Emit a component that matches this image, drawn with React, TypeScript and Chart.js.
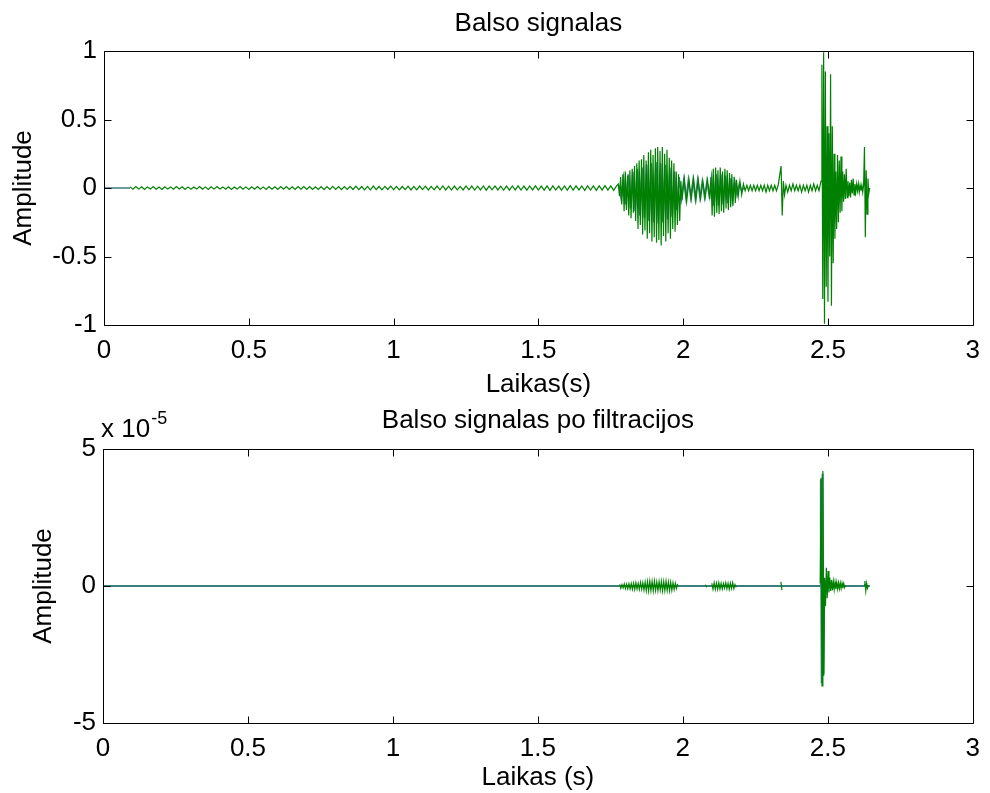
import React, { useEffect, useRef } from 'react';
import { Chart, registerables } from 'chart.js';

Chart.register(...registerables);

const FONT = '"Liberation Sans", Arial, Helvetica, sans-serif';
const FONT_SIZE = 26;
const GREEN = '#008000';
const TEAL = '#3d7f80';

// ---- axis ticks ----
const X_TICKS = [0, 0.5, 1, 1.5, 2, 2.5, 3];
const TOP_Y_TICKS = [-1, -0.5, 0, 0.5, 1];
const BOTTOM_Y_TICKS = [-5, 0, 5]; // in units of 10^-5
const BOTTOM_EXPONENT = '-5';

// ---- signal segments (t0 = start time in s, dt = sample spacing, v = peak values) ----
type Seg = { t0: number; dt: number; v: number[] };

// Top plot: original voice signal (green trace)
const VOICE_GREEN: Seg[] = [
  {
    t0: 0.09, dt: 0.01, v: [
      0.008, -0.009, 0.010, -0.008, 0.009, -0.010, 0.008, -0.008, 0.010, -0.009,
      0.007, -0.010, 0.009, -0.008, 0.008, -0.009, 0.010, -0.007, 0.009, -0.010,
      0.008, -0.009, 0.007, -0.008, 0.010, -0.009, 0.008, -0.010, 0.009, -0.008,
      0.010, -0.007, 0.008, -0.009, 0.009, -0.010, 0.007, -0.008, 0.010, -0.009,
      0.008, -0.010, 0.009, -0.008, 0.011, -0.009, 0.008, -0.010, 0.010, -0.009,
      0.009, -0.011, 0.010, -0.008, 0.011, -0.010, 0.009, -0.011, 0.010, -0.009,
      0.011, -0.010, 0.010, -0.011, 0.009, -0.010, 0.011, -0.012, 0.010, -0.011,
      0.012, -0.010, 0.011, -0.012, 0.010, -0.011, 0.012, -0.011, 0.013, -0.012,
      0.011, -0.013, 0.012, -0.013, 0.014, -0.012, 0.011, -0.013, 0.012, -0.011,
      0.013, -0.012, 0.012, -0.013, 0.011, -0.012, 0.013, -0.014, 0.012, -0.013,
      0.014, -0.012, 0.013, -0.014, 0.012, -0.013, 0.014, -0.013, 0.015, -0.014,
      0.013, -0.015, 0.014, -0.013, 0.012, -0.014, 0.015, -0.013, 0.014, -0.015,
      0.013, -0.014, 0.015, -0.016, 0.014, -0.013, 0.015, -0.014, 0.013, -0.015,
      0.014, -0.016, 0.015, -0.014, 0.016, -0.015, 0.014, -0.016, 0.015, -0.014,
      0.016, -0.015, 0.014, -0.016, 0.015, -0.017, 0.016, -0.015, 0.014, -0.016,
      0.015, -0.016, 0.017, -0.015, 0.016, -0.014, 0.015, -0.017, 0.016, -0.015,
      0.016, -0.017, 0.015, -0.016, 0.017, -0.016, 0.015, -0.017, 0.016,
    ],
  },
  {
    t0: 1.776, dt: 0.004, v: [
      0.03, -0.06, 0.08, -0.12, 0.10, -0.17, 0.12, -0.16, 0.09, -0.20,
      0.13, -0.22, 0.14, -0.18, 0.16, -0.24, 0.18, -0.30, 0.20, -0.27,
      0.21, -0.34, 0.24, -0.31, 0.20, -0.37, 0.26, -0.33, 0.28, -0.39,
      0.24, -0.36, 0.29, -0.40, 0.30, -0.38, 0.27, -0.42, 0.30, -0.35,
      0.25, -0.39, 0.28, -0.33, 0.22, -0.37, 0.20, -0.30, 0.18, -0.32,
      0.12, -0.27, 0.10, -0.24, 0.05,
    ],
  },
  {
    t0: 1.996, dt: 0.008, v: [
      -0.09, 0.07, -0.10, 0.06, -0.08, 0.07, -0.09, 0.06, -0.08, 0.05, -0.07, 0.06,
    ],
  },
  {
    t0: 2.092, dt: 0.004, v: [
      -0.08, 0.08, -0.20, 0.14, -0.21, 0.15, -0.18, 0.13, -0.19, 0.15,
      -0.17, 0.12, -0.18, 0.14, -0.15, 0.13, -0.16, 0.11, -0.14, 0.10,
      -0.13, 0.08, -0.11, 0.06,
    ],
  },
  {
    t0: 2.19, dt: 0.006, v: [
      -0.06, 0.05, -0.05, 0.03, -0.02, 0.02, -0.02, 0.02, -0.02, 0.02,
      -0.02, 0.02, -0.02, 0.02, -0.02, 0.02, -0.03, 0.02, -0.02, 0.02,
      -0.02, 0.02, -0.02, 0.02,
    ],
  },
  { t0: 2.338, dt: 0.004, v: [0.16, -0.20, 0.05, -0.05] },
  {
    t0: 2.355, dt: 0.006, v: [
      0.02, -0.03, 0.02, -0.02, 0.03, -0.02, 0.02, -0.02, 0.02, -0.03,
      0.02, -0.02, 0.02, -0.03, 0.02, -0.02, 0.03, -0.02, 0.02, -0.02,
    ],
  },
  {
    t0: 2.476, dt: 0.003, v: [
      0.05, 0.90, -0.81, 0.99, -0.99, 0.85, -0.72, 0.45, -0.83, 0.40,
      -0.50, 0.83, -0.86, 0.45, -0.55, 0.25, -0.37, 0.12, -0.30, 0.24,
      -0.25, 0.20, -0.18, 0.23, -0.17, 0.12, -0.10, 0.10, -0.08, 0.14,
      -0.07, 0.05, -0.06, 0.04, -0.07, 0.06, -0.04, 0.07, -0.05, 0.03,
      -0.03, 0.03, -0.02, 0.03, -0.03, 0.02, -0.02, 0.02, -0.03, 0.02,
      0.30, -0.36, 0.13, -0.19, 0.07, -0.04, 0.0,
    ],
  },
];

// Top plot: second (teal) trace, visible at the start and between green strokes
const VOICE_TEAL: Seg[] = [
  { t0: 0, dt: 0.09, v: [0, 0] },
  {
    t0: 1.778, dt: 0.008, v: [
      0.02, -0.08, 0.07, -0.12, 0.10, -0.15, 0.12, -0.17, 0.14, -0.20,
      0.15, -0.22, 0.17, -0.24, 0.18, -0.25, 0.19, -0.26, 0.18, -0.25,
      0.17, -0.23, 0.15, -0.21, 0.12, -0.16, 0.08, -0.08, 0.06, -0.08,
      0.06, -0.07, 0.06, -0.08, 0.06, -0.07, 0.05, -0.07, 0.05, -0.06,
      0.08, -0.13, 0.10, -0.13, 0.10, -0.12, 0.09, -0.11, 0.07, -0.09,
      0.05, -0.05, 0.03, -0.02, 0,
    ],
  },
];

// Bottom plot: filtered signal, values in units of 10^-5 (green bursts)
const FILTERED_GREEN: Seg[] = [
  {
    t0: 1.782, dt: 0.004, v: [
      0.06, -0.08, 0.05, -0.07, 0.08, -0.09, 0.07, -0.10, 0.08, -0.11,
      0.09, -0.12, 0.10, -0.13, 0.12, -0.11, 0.10, -0.12, 0.13, -0.12,
      0.12, -0.15, 0.14, -0.17, 0.16, -0.18, 0.18, -0.17, 0.17, -0.18,
      0.18, -0.16, 0.15, -0.17, 0.16, -0.15, 0.17, -0.18, 0.16, -0.17,
      0.18, -0.16, 0.15, -0.17, 0.14, -0.16, 0.12, -0.13, 0.10, -0.09,
      0.08,
    ],
  },
  { t0: 2.078, dt: 0.004, v: [0.05, -0.05] },
  {
    t0: 2.10, dt: 0.004, v: [
      0.10, -0.12, 0.12, -0.12, 0.11, -0.12, 0.12, -0.11, 0.10, -0.11,
      0.09, -0.08, 0.12, -0.10, 0.10, -0.12, 0.11, -0.09, 0.12, -0.10,
      0.05, -0.05,
    ],
  },
  { t0: 2.338, dt: 0.004, v: [0.15, -0.15] },
  {
    t0: 2.474, dt: 0.003, v: [
      0.10, 3.95, -3.65, 4.20, -3.28, 0.30, -0.73, 0.67, -0.45, 0.55,
      -0.24, 0.31, -0.18, 0.22, -0.15, 0.17, -0.13, 0.15, -0.12, 0.13,
      -0.11, 0.12, -0.10, 0.11, -0.09, 0.10, -0.08, 0.09, -0.05, 0.03,
    ],
  },
  { t0: 2.625, dt: 0.003, v: [0.05, 0.18, -0.18, 0.10, -0.08, 0.03] },
];

// Bottom plot: teal trace (baseline plus faint strokes at the main spike)
const FILTERED_TEAL: Seg[] = [
  { t0: 0, dt: 2.474, v: [0, 0] },
  { t0: 2.476, dt: 0.003, v: [3.90, -3.55, 4.10, -3.20, 0.20, 0] },
  { t0: 2.494, dt: 0.151, v: [0, 0] },
];

function build(segs: Seg[], gaps: boolean) {
  const pts: { x: number; y: number | null }[] = [];
  segs.forEach((s, k) => {
    if (gaps && k > 0) pts.push({ x: s.t0 - 0.0005, y: null });
    s.v.forEach((y, i) => pts.push({ x: s.t0 + i * s.dt, y }));
  });
  return pts;
}

type PlotCfg = {
  height: number;
  title: string;
  titleY: number;
  plotTop: number;
  yWidth: number;
  yTitlePad: number;
  xHeight: number;
  xTitle: string;
  xTitlePad: number;
  yMin: number;
  yMax: number;
  yTicks: number[];
  green: Seg[];
  teal: Seg[];
  greenGaps: boolean;
  tealGaps: boolean;
  tealWidth: number;
  exponent?: string;
};

const frame = {
  id: 'matlabFrame',
  afterDatasetsDraw(chart: any, _args: any, opts: any) {
    const { ctx, chartArea: a, scales } = chart;
    const xs = scales.x;
    const ys = scales.y;
    const L = 7;
    ctx.save();
    ctx.strokeStyle = '#000';
    ctx.lineWidth = 1;
    const l = Math.round(a.left) + 0.5;
    const r = Math.round(a.right) + 0.5;
    const t = Math.round(a.top) + 0.5;
    const b = Math.round(a.bottom) + 0.5;
    ctx.beginPath();
    ctx.rect(l, t, r - l, b - t);
    xs.ticks.forEach((tk: any) => {
      const px = Math.round(xs.getPixelForValue(tk.value)) + 0.5;
      ctx.moveTo(px, b); ctx.lineTo(px, b - L);
      ctx.moveTo(px, t); ctx.lineTo(px, t + L);
    });
    ys.ticks.forEach((tk: any) => {
      const py = Math.round(ys.getPixelForValue(tk.value)) + 0.5;
      ctx.moveTo(l, py); ctx.lineTo(l + L, py);
      ctx.moveTo(r, py); ctx.lineTo(r - L, py);
    });
    ctx.stroke();

    ctx.fillStyle = '#000';
    // subplot title centred over the axes
    if (opts && opts.title) {
      ctx.font = `${FONT_SIZE}px ${FONT}`;
      ctx.textAlign = 'center';
      ctx.textBaseline = 'middle';
      ctx.fillText(opts.title, (a.left + a.right) / 2, opts.titleY);
    }
    if (opts && opts.exponent) {
      ctx.textBaseline = 'alphabetic';
      ctx.textAlign = 'left';
      ctx.font = `${FONT_SIZE}px ${FONT}`;
      const base = a.top - 12;
      const txt = 'x 10';
      ctx.fillText(txt, a.left - 2, base);
      const w = ctx.measureText(txt).width;
      ctx.font = `18px ${FONT}`;
      ctx.fillText(opts.exponent, a.left - 2 + w + 1, base - 13);
    }
    ctx.restore();
  },
};

function SubPlot({ cfg, top }: { cfg: PlotCfg; top: number }) {
  const ref = useRef<HTMLCanvasElement | null>(null);
  useEffect(() => {
    if (!ref.current) return;
    const font = { family: FONT, size: FONT_SIZE };
    const chart = new Chart(ref.current, {
      type: 'line',
      data: {
        datasets: [
          {
            data: build(cfg.green, cfg.greenGaps) as any,
            borderColor: GREEN,
            borderWidth: 1.2,
            pointRadius: 0,
            tension: 0,
            spanGaps: false,
          },
          {
            data: build(cfg.teal, cfg.tealGaps) as any,
            borderColor: TEAL,
            borderWidth: cfg.tealWidth,
            pointRadius: 0,
            tension: 0,
            spanGaps: false,
          },
        ],
      },
      options: {
        animation: false,
        responsive: false,
        devicePixelRatio: 1,
        parsing: false as any,
        events: [],
        layout: { padding: { left: 0, right: 15, top: cfg.plotTop, bottom: 0 } },
        plugins: {
          legend: { display: false },
          tooltip: { enabled: false },
          title: { display: false },
          matlabFrame: { exponent: cfg.exponent, title: cfg.title, titleY: cfg.titleY } as any,
        } as any,
        scales: {
          x: {
            type: 'linear',
            min: 0,
            max: 3,
            afterBuildTicks: (s: any) => { s.ticks = X_TICKS.map((v) => ({ value: v })); },
            afterFit: (s: any) => { s.height = cfg.xHeight; },
            ticks: { color: '#000', font, padding: 10, maxRotation: 0, callback: (v: any) => String(v) },
            grid: { display: false, drawTicks: false },
            border: { display: false },
            title: {
              display: true,
              text: cfg.xTitle,
              color: '#000',
              font: { ...font, lineHeight: 1.2 },
              padding: { top: 0, bottom: cfg.xTitlePad },
            },
          },
          y: {
            type: 'linear',
            min: cfg.yMin,
            max: cfg.yMax,
            afterBuildTicks: (s: any) => { s.ticks = cfg.yTicks.map((v) => ({ value: v })); },
            afterFit: (s: any) => { s.width = cfg.yWidth; },
            ticks: { color: '#000', font, padding: 7, callback: (v: any) => String(v) },
            grid: { display: false, drawTicks: false },
            border: { display: false },
            title: {
              display: true,
              text: 'Amplitude',
              color: '#000',
              font: { ...font, lineHeight: 1.2 },
              padding: { top: cfg.yTitlePad, bottom: 0 },
            },
          },
        },
      },
      plugins: [frame],
    });
    return () => chart.destroy();
  }, [cfg]);
  return (
    <canvas
      ref={ref}
      width={990}
      height={cfg.height}
      style={{ position: 'absolute', left: 0, top, width: 990, height: cfg.height }}
    />
  );
}

const TOP_CFG: PlotCfg = {
  height: 400,
  title: 'Balso signalas',
  titleY: 24,
  plotTop: 51,
  yWidth: 104,
  yTitlePad: 8,
  xHeight: 75,
  xTitle: 'Laikas(s)',
  xTitlePad: 0,
  yMin: -1,
  yMax: 1,
  yTicks: TOP_Y_TICKS,
  green: VOICE_GREEN,
  teal: VOICE_TEAL,
  greenGaps: false,
  tealGaps: true,
  tealWidth: 1.6,
};

const BOTTOM_CFG: PlotCfg = {
  height: 400,
  title: 'Balso signalas po filtracijos',
  titleY: 28,
  plotTop: 56,
  yWidth: 103,
  yTitlePad: 28,
  xHeight: 70,
  xTitle: 'Laikas (s)',
  xTitlePad: 0,
  yMin: -5,
  yMax: 5,
  yTicks: BOTTOM_Y_TICKS,
  green: FILTERED_GREEN,
  teal: FILTERED_TEAL,
  greenGaps: true,
  tealGaps: false,
  tealWidth: 2,
  exponent: BOTTOM_EXPONENT,
};

export default function App() {
  return (
    <div style={{ position: 'absolute', left: 0, top: 0, width: 990, height: 793, background: '#fff', overflow: 'hidden' }}>
      <SubPlot cfg={TOP_CFG} top={0} />
      <SubPlot cfg={BOTTOM_CFG} top={393} />
    </div>
  );
}
